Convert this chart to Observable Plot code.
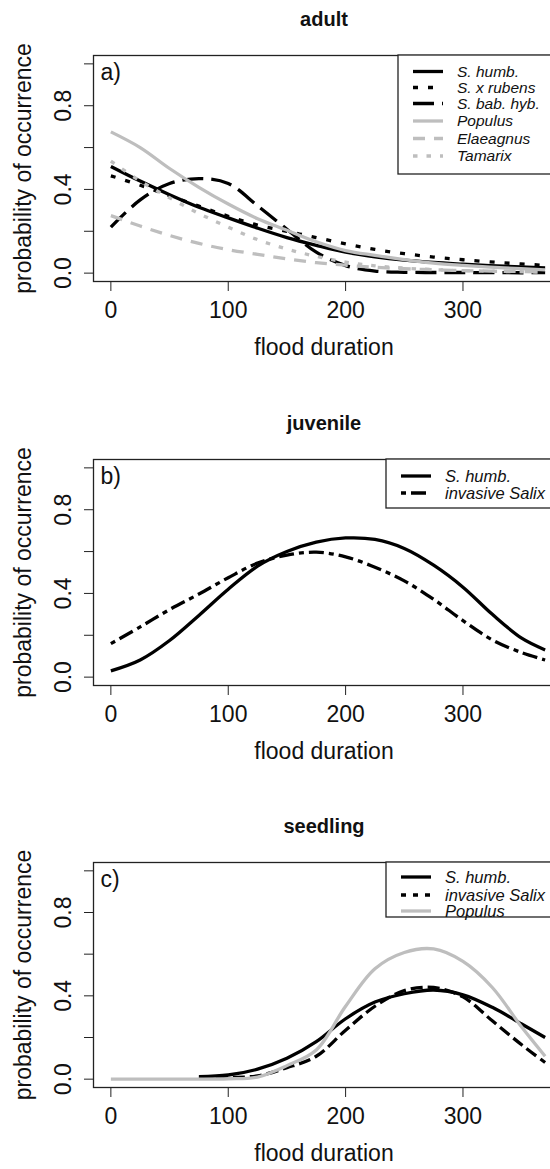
<!DOCTYPE html>
<html><head><meta charset="utf-8">
<script src="https://cdn.jsdelivr.net/npm/d3@7"></script>
<script src="https://cdn.jsdelivr.net/npm/@observablehq/plot@0.6"></script>
<style>
html,body{margin:0;padding:0;background:#fff;overflow:hidden;}
#chart{width:550px;height:1169px;overflow:hidden;}
#chart svg{display:block;max-width:none !important;}
</style></head><body><div id="chart"></div>
<script>
// ---------- data ----------
const xTicks = [0, 100, 200, 300];
const yTicks = [0, 0.2, 0.4, 0.6, 0.8, 1.0];
const yTickLabels = [0, 0.4, 0.8];
const xLabel = "flood duration";
const yLabel = "probability of occurrence";

// adult
const adultDays      = [0, 25, 50, 75, 100, 125, 150, 175, 200, 225, 250, 275, 300, 335, 370];
const adultSHumb     = [0.51, 0.44, 0.375, 0.315, 0.264, 0.215, 0.17, 0.133, 0.1, 0.078, 0.062, 0.051, 0.043, 0.033, 0.025];
const adultSxRubens  = [0.465, 0.42, 0.37, 0.32, 0.272, 0.23, 0.2, 0.17, 0.14, 0.113, 0.093, 0.077, 0.064, 0.049, 0.037];
const adultSBabHyb   = [0.22, 0.35, 0.428, 0.452, 0.428, 0.322, 0.21, 0.1, 0.036, 0.01, 0.004, 0.003, 0.003, 0.002, 0.002];
const adultPopulus   = [0.675, 0.6, 0.5, 0.41, 0.33, 0.26, 0.205, 0.15, 0.108, 0.085, 0.065, 0.048, 0.037, 0.025, 0.016];
const adultElaeagnus = [0.275, 0.225, 0.18, 0.142, 0.112, 0.09, 0.068, 0.05, 0.038, 0.028, 0.021, 0.016, 0.012, 0.009, 0.006];
const adultTamarix   = [0.535, 0.44, 0.36, 0.285, 0.22, 0.16, 0.115, 0.08, 0.053, 0.035, 0.024, 0.017, 0.012, 0.008, 0.005];

// juvenile
const juvDays    = [0, 25, 50, 75, 100, 125, 150, 175, 200, 225, 250, 275, 300, 325, 350, 370];
const juvSHumb   = [0.03, 0.082, 0.175, 0.295, 0.42, 0.53, 0.6, 0.645, 0.665, 0.658, 0.615, 0.535, 0.43, 0.3, 0.186, 0.13];
const juvInvSalix= [0.16, 0.24, 0.323, 0.397, 0.475, 0.545, 0.583, 0.597, 0.575, 0.525, 0.46, 0.372, 0.27, 0.178, 0.117, 0.082];

// seedling (null = curve not drawn)
const seedDays     = [0, 25, 50, 75, 100, 125, 150, 175, 200, 225, 250, 275, 300, 325, 350, 370];
const seedSHumb    = [null, null, null, 0.012, 0.02, 0.048, 0.1, 0.18, 0.29, 0.37, 0.41, 0.428, 0.405, 0.345, 0.265, 0.2];
const seedInvSalix = [null, null, null, 0.005, 0.008, 0.016, 0.055, 0.11, 0.235, 0.35, 0.425, 0.44, 0.395, 0.28, 0.165, 0.08];
const seedPopulus  = [0, 0, 0, 0, 0.002, 0.01, 0.065, 0.14, 0.35, 0.53, 0.608, 0.625, 0.565, 0.44, 0.25, 0.11];

// ---------- styles ----------
const BLACK = "#000", GREY = "#bebebe";
const LW = 3.3;
const FONT = "'Liberation Sans', Arial, Helvetica, sans-serif";
const W = 570, LEFT = 93, RIGHT = 562;

function rows(days, values, name) {
  return days.map((d, i) => ({day: d, p: values[i], name})).filter(r => r.p != null);
}

function panel({title, tag, height, top, bottom, series, legend}) {
  const marks = [
    Plot.frame({stroke: "#222", strokeWidth: 1.3}),
    Plot.axisX({ticks: xTicks, tickSize: 10, tickPadding: 10, fontSize: 23, label: null, tickFormat: d => String(d), stroke: "#222", fill: "#111"}),
    Plot.axisY({ticks: yTicks, tickSize: 9, tickFormat: () => "", label: null, stroke: "#222"}),
    Plot.text(yTickLabels, {y: d => d, text: d => d.toFixed(1), frameAnchor: "left", textAnchor: "middle", dx: -23, rotate: -90, lineAnchor: "bottom", fontSize: 23, fill: "#111"}),
    Plot.text([yLabel], {text: d => d, frameAnchor: "left", textAnchor: "middle", dx: -63, rotate: -90, lineAnchor: "bottom", fontSize: 23, fill: "#111"}),
    Plot.text([title], {text: d => d, frameAnchor: "top", dx: -4, dy: -30, lineAnchor: "bottom", fontSize: 20, fontWeight: "bold", fill: "#111"}),
    Plot.text([xLabel], {text: d => d, frameAnchor: "bottom", dx: -4, dy: 73, lineAnchor: "bottom", fontSize: 23, fill: "#111"}),
    Plot.text([tag], {text: d => d, frameAnchor: "top-left", dx: 7, dy: 24, lineAnchor: "bottom", textAnchor: "start", fontSize: 23, fill: "#111"})
  ];
  for (const s of series) {
    marks.push(Plot.line(rows(s.days, s.values, s.name), {
      x: "day", y: "p", stroke: s.color, strokeWidth: LW,
      strokeDasharray: s.dash || null, strokeLinecap: "butt", curve: "catmull-rom"
    }));
  }
  const svg = Plot.plot({
    width: W, height,
    marginLeft: LEFT, marginRight: W - RIGHT, marginTop: top, marginBottom: height - bottom,
    x: {domain: [-14.8, 384.8]},
    y: {domain: [-0.04, 1.04]},
    style: {fontFamily: FONT, background: "#fff", color: "#111", overflow: "visible", maxWidth: "none"},
    marks
  });
  // legend (box at top-right of the plot region)
  const g = d3.select(svg).append("g");
  g.append("rect")
    .attr("x", legend.x0).attr("y", top)
    .attr("width", RIGHT - legend.x0).attr("height", legend.bottom - top)
    .attr("fill", "#fff").attr("stroke", "#222").attr("stroke-width", 1.3);
  series.forEach((s, i) => {
    const y = legend.rows[i];
    g.append("line")
      .attr("x1", legend.x0 + 15).attr("x2", legend.x0 + 45)
      .attr("y1", y).attr("y2", y)
      .attr("stroke", s.color).attr("stroke-width", LW)
      .attr("stroke-dasharray", (s.legendDash || s.dash) || null);
    g.append("text")
      .attr("x", legend.x0 + 59).attr("y", y).attr("dy", "0.35em")
      .attr("text-anchor", "start")
      .attr("font-size", legend.fontSize).attr("font-style", "italic")
      .attr("font-family", FONT).attr("fill", "#111")
      .text(s.name);
  });
  return svg;
}

const chart = document.getElementById("chart");

chart.appendChild(panel({
  title: "adult", tag: "a)", height: 403, top: 55, bottom: 281,
  series: [
    {name: "S. humb.",     days: adultDays, values: adultSHumb,     color: BLACK},
    {name: "S. x rubens",  days: adultDays, values: adultSxRubens,  color: BLACK, dash: "5,10"},
    {name: "S. bab. hyb.", days: adultDays, values: adultSBabHyb,   color: BLACK, dash: "21,8"},
    {name: "Populus",      days: adultDays, values: adultPopulus,   color: GREY},
    {name: "Elaeagnus",    days: adultDays, values: adultElaeagnus, color: GREY, dash: "12,9"},
    {name: "Tamarix",      days: adultDays, values: adultTamarix,   color: GREY, dash: "4.5,9"}
  ],
  legend: {x0: 398, bottom: 174, rows: [71.5, 87.5, 103.5, 121, 138.5, 156], fontSize: 15.5}
}));

chart.appendChild(panel({
  title: "juvenile", tag: "b)", height: 403, top: 56, bottom: 282,
  series: [
    {name: "S. humb.",        days: juvDays, values: juvSHumb,    color: BLACK},
    {name: "invasive Salix",  days: juvDays, values: juvInvSalix, color: BLACK, dash: "5,5,15,5"}
  ],
  legend: {x0: 386, bottom: 105, rows: [73, 90], fontSize: 16.5}
}));

chart.appendChild(panel({
  title: "seedling", tag: "c)", height: 363, top: 56, bottom: 281,
  series: [
    {name: "S. humb.",        days: seedDays, values: seedSHumb,    color: BLACK},
    {name: "invasive Salix",  days: seedDays, values: seedInvSalix, color: BLACK, dash: "12,5", legendDash: "5,7"},
    {name: "Populus",         days: seedDays, values: seedPopulus,  color: GREY}
  ],
  legend: {x0: 386, bottom: 111, rows: [71, 89, 105], fontSize: 16.5}
}));
</script>
</body></html>
